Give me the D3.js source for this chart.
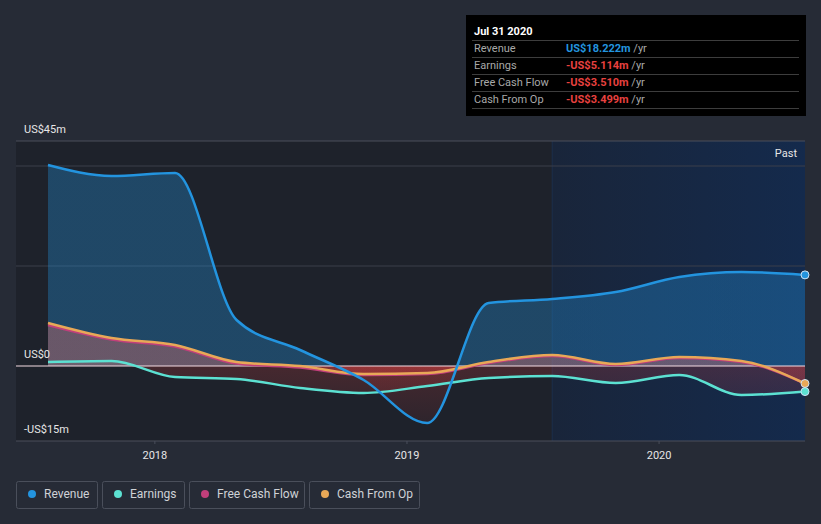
<!DOCTYPE html>
<html>
<head>
<meta charset="utf-8">
<script src="https://cdn.jsdelivr.net/npm/d3@7"></script>
<style>
  body { margin: 0; background: #262b36; }
  svg { display: block; font-family: Roboto, "Open Sans", sans-serif; }
</style>
</head>
<body>
<div id="wrapper"></div>
<script>
// quarterly trailing-twelve-month figures, US$m
const dates = ["2017-07-31", "2017-10-31", "2018-01-31", "2018-04-30", "2018-07-31", "2018-10-31",
    "2019-01-31", "2019-04-30", "2019-07-31", "2019-10-31", "2020-01-31", "2020-04-30", "2020-07-31"]
const revenue = [40.2, 38.0, 38.6, 9.2, 3.2, -2.8, -11.4, 12.6, 13.4, 14.8, 17.8, 18.8, 18.222]
const earnings = [0.8, 1.0, -2.2, -2.6, -4.4, -5.4, -4.0, -2.4, -2.0, -3.4, -1.8, -5.8, -5.114]
const freeCashFlow = [8.2, 5.3, 3.9, 0.5, -0.3, -1.8, -1.6, 0.6, 2.0, 0.2, 1.6, 0.8, -3.510]
const cashFromOp = [8.6, 5.6, 4.2, 0.8, 0.0, -1.6, -1.4, 0.8, 2.2, 0.4, 1.8, 1.0, -3.499]

const yTicks = [-15, 0, 45]
const yTickLabels = ["-US$15m", "US$0", "US$45m"]
const gridValues = [20, 40]
const xTickYears = ["2018-01-01", "2019-01-01", "2020-01-01"]
const pastStart = "2019-07-31"

const tooltipTitle = "Jul 31 2020"
const tooltipRows = [
    { label: "Revenue", value: "US$18.222m", color: "#2394df" },
    { label: "Earnings", value: "-US$5.114m", color: "#e8413f" },
    { label: "Free Cash Flow", value: "-US$3.510m", color: "#e8413f" },
    { label: "Cash From Op", value: "-US$3.499m", color: "#e8413f" },
]

const seriesNames = ["Revenue", "Earnings", "Free Cash Flow", "Cash From Op"]
const seriesColors = ["#2394df", "#5ce1d2", "#c13f7b", "#e8a857"]

async function drawChart() {
    const parseDate = d3.timeParse("%Y-%m-%d")
    const series = [revenue, earnings, freeCashFlow, cashFromOp].map((vals, i) => ({
        name: seriesNames[i],
        color: seriesColors[i],
        values: vals.map((v, j) => ({ date: parseDate(dates[j]), value: v })),
    }))

    const width = 821
    const height = 524
    const plot = { left: 16, right: 805, top: 141, bottom: 441 }

    const wrapper = d3.select("#wrapper")
        .append("svg")
        .attr("width", width)
        .attr("height", height)

    const defs = wrapper.append("defs")

    // scales
    const xScale = d3.scaleTime()
        .domain([parseDate(dates[0]), parseDate(dates[dates.length - 1])])
        .range([48, 805])

    const yScale = d3.scaleLinear()
        .domain([-15, 45])
        .range([plot.bottom, plot.top])

    const zeroOffset = (yScale(0) - plot.top) / (plot.bottom - plot.top)

    // backgrounds
    wrapper.append("rect")
        .attr("x", plot.left)
        .attr("y", plot.top)
        .attr("width", plot.right - plot.left)
        .attr("height", plot.bottom - plot.top)
        .attr("fill", "#1e222b")

    const pastGrad = defs.append("linearGradient")
        .attr("id", "pastGrad")
        .attr("x1", 0).attr("x2", 1).attr("y1", 0).attr("y2", 0)
    pastGrad.append("stop").attr("offset", 0).attr("stop-color", "#19253a")
    pastGrad.append("stop").attr("offset", 1).attr("stop-color", "#142a4c")

    const pastX = xScale(parseDate(pastStart))
    wrapper.append("rect")
        .attr("x", pastX)
        .attr("y", plot.top)
        .attr("width", plot.right - pastX)
        .attr("height", plot.bottom - plot.top)
        .attr("fill", "url(#pastGrad)")
    wrapper.append("line")
        .attr("x1", pastX).attr("x2", pastX)
        .attr("y1", plot.top).attr("y2", plot.bottom)
        .attr("stroke", "#1b2f4c")
        .attr("stroke-width", 1)

    // grid
    wrapper.selectAll(".grid")
        .data(gridValues)
        .enter().append("line")
        .attr("x1", plot.left).attr("x2", plot.right)
        .attr("y1", d => yScale(d)).attr("y2", d => yScale(d))
        .attr("stroke", "#3a3f4b")
        .attr("stroke-width", 1)

    wrapper.append("line")
        .attr("x1", plot.left).attr("x2", plot.right)
        .attr("y1", plot.top).attr("y2", plot.top)
        .attr("stroke", "#4a4f5b")
    wrapper.append("line")
        .attr("x1", plot.left).attr("x2", plot.right)
        .attr("y1", plot.bottom).attr("y2", plot.bottom)
        .attr("stroke", "#4a4f5b")

    // areas
    const areaGenerator = d3.area()
        .x(d => xScale(d.date))
        .y0(yScale(0))
        .y1(d => yScale(d.value))
        .curve(d3.curveMonotoneX)

    const areaOpacity = [0.33, 0.12, 0.28, 0.18]
    series.forEach((s, i) => {
        const g = defs.append("linearGradient")
            .attr("id", `area${i}`)
            .attr("gradientUnits", "userSpaceOnUse")
            .attr("x1", 0).attr("x2", 0)
            .attr("y1", plot.top).attr("y2", plot.bottom)
        g.append("stop").attr("offset", 0).attr("stop-color", s.color).attr("stop-opacity", areaOpacity[i])
        g.append("stop").attr("offset", zeroOffset).attr("stop-color", s.color).attr("stop-opacity", areaOpacity[i])
        g.append("stop").attr("offset", zeroOffset).attr("stop-color", "#e8413f").attr("stop-opacity", 0.2)
        g.append("stop").attr("offset", 1).attr("stop-color", "#e8413f").attr("stop-opacity", 0.04)

        wrapper.append("path")
            .datum(s.values)
            .attr("d", areaGenerator)
            .attr("fill", `url(#area${i})`)
    })

    // zero line
    wrapper.append("line")
        .attr("x1", plot.left).attr("x2", plot.right)
        .attr("y1", yScale(0)).attr("y2", yScale(0))
        .attr("stroke", "#f3dce4")
        .attr("stroke-width", 1.2)

    // lines
    const lineGenerator = d3.line()
        .x(d => xScale(d.date))
        .y(d => yScale(d.value))
        .curve(d3.curveMonotoneX)

    const drawOrder = [2, 3, 1, 0]
    drawOrder.forEach(i => {
        wrapper.append("path")
            .datum(series[i].values)
            .attr("d", lineGenerator)
            .attr("fill", "none")
            .attr("stroke", series[i].color)
            .attr("stroke-width", 2.5)
    })

    // end dots
    ;[3, 1, 0].forEach(i => {
        const last = series[i].values[series[i].values.length - 1]
        wrapper.append("circle")
            .attr("cx", xScale(last.date))
            .attr("cy", yScale(last.value))
            .attr("r", 4)
            .attr("fill", series[i].color)
            .attr("stroke", "#cfe3f5")
            .attr("stroke-width", 1)
    })

    // y labels
    wrapper.selectAll(".ylabel")
        .data(yTicks)
        .enter().append("text")
        .attr("x", 24)
        .attr("y", d => d === -15 ? yScale(d) - 8 : yScale(d) - 8)
        .attr("fill", "#e6e6e6")
        .style("font-size", "11px")
        .text((d, i) => yTickLabels[i])

    // x axis
    const xAxisGenerator = d3.axisBottom()
        .scale(xScale)
        .tickValues(xTickYears.map(parseDate))
        .tickFormat(d3.timeFormat("%Y"))
        .tickSize(3)

    const xAxis = wrapper.append("g")
        .attr("transform", `translate(0, ${plot.bottom})`)
        .call(xAxisGenerator)
    xAxis.select(".domain").remove()
    xAxis.selectAll(".tick line").attr("stroke", "#4a4f5b")
    xAxis.selectAll(".tick text")
        .attr("fill", "#e6e6e6")
        .attr("dy", "1.1em")
        .style("font-size", "11px")
        .style("font-family", "Roboto, sans-serif")

    wrapper.append("text")
        .attr("x", 797)
        .attr("y", 157)
        .attr("text-anchor", "end")
        .attr("fill", "#e6e6e6")
        .style("font-size", "11px")
        .text("Past")

    // tooltip
    const tip = wrapper.append("g")
    tip.append("rect")
        .attr("x", 466).attr("y", 15)
        .attr("width", 340).attr("height", 101)
        .attr("fill", "#000")
    tip.append("text")
        .attr("x", 474).attr("y", 35)
        .attr("fill", "#fff")
        .style("font-size", "11px")
        .style("font-weight", "bold")
        .text(tooltipTitle)
    ;[40, 57, 74, 91, 108].forEach(y => {
        tip.append("line")
            .attr("x1", 472).attr("x2", 799)
            .attr("y1", y + 0.5).attr("y2", y + 0.5)
            .attr("stroke", "#3d3d3d")
    })
    tooltipRows.forEach((r, i) => {
        const y = 52 + i * 17
        tip.append("text")
            .attr("x", 474).attr("y", y)
            .attr("fill", "#a8a8a8")
            .style("font-size", "11px")
            .text(r.label)
        const t = tip.append("text")
            .attr("x", 566).attr("y", y)
            .style("font-size", "11px")
        t.append("tspan")
            .attr("fill", r.color)
            .style("font-weight", "bold")
            .text(r.value)
        t.append("tspan")
            .attr("fill", "#a8a8a8")
            .text(" /yr")
    })

    // legend
    const legendBoxes = [
        { x: 16, w: 81 },
        { x: 102, w: 82 },
        { x: 189, w: 115 },
        { x: 309, w: 110 },
    ]
    const legend = wrapper.append("g")
    series.forEach((s, i) => {
        const b = legendBoxes[i]
        legend.append("rect")
            .attr("x", b.x + 0.5).attr("y", 481.5)
            .attr("width", b.w).attr("height", 27)
            .attr("rx", 2)
            .attr("fill", "none")
            .attr("stroke", "#4a4f5b")
        legend.append("circle")
            .attr("cx", b.x + 16).attr("cy", 494)
            .attr("r", 4)
            .attr("fill", s.color)
        legend.append("text")
            .attr("x", b.x + 28).attr("y", 498)
            .attr("fill", "#cfd2d6")
            .style("font-size", "12px")
            .text(s.name)
    })
}
drawChart()
</script>
</body>
</html>
